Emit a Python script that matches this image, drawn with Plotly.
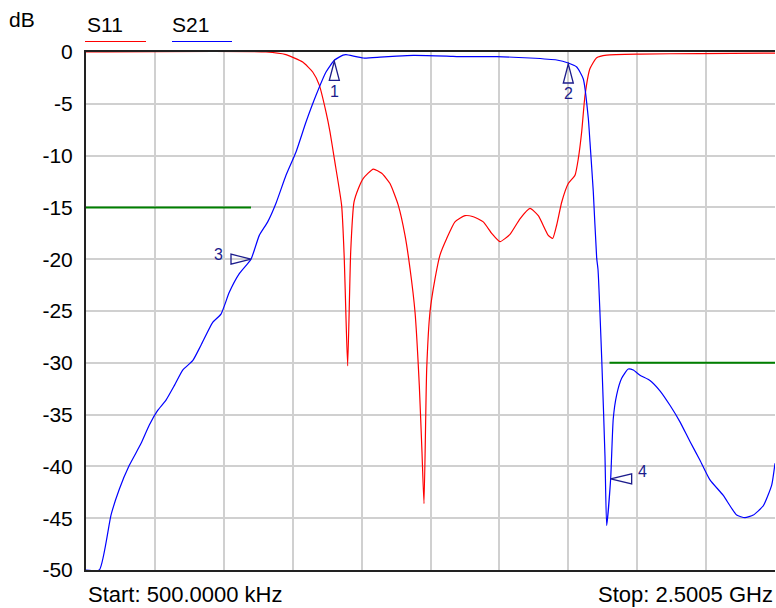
import numpy as np
import plotly.graph_objects as go

# ---- data (frequency in MHz, level in dB) ----
s21_freq = [0.5, 48.8, 91.2, 121.3, 157.6, 200.0, 230.2, 260.6, 290.8, 320.9, 351.4, 387.6,
            417.8, 460.2, 490.3, 520.4, 556.7, 599.2, 629.3, 659.8, 689.9, 726.2, 762.5,
            798.8, 835.1, 871.4, 901.5, 933.0, 943.9, 1006.7, 1067.3, 1127.8, 1188.1, 1309.3,
            1369.5, 1490.7, 1611.5, 1708.4, 1750.5, 1781.0, 1805.0, 1823.1, 1829.2, 1841.2,
            1853.5, 1858.3, 1871.6, 1883.6, 1889.7, 1904.2, 1913.6, 1926.0, 1944.1, 1968.1,
            1986.2, 2010.5, 2046.8, 2083.1, 2119.4, 2155.7, 2192.0, 2228.3, 2264.6, 2312.8,
            2361.4, 2391.5, 2421.7, 2458.0, 2488.5, 2500.5]
s21_db = [-50.0, -50.0, -44.7, -42.2, -39.9, -37.8, -36.0, -34.6, -33.6, -32.2, -30.7, -29.8,
          -28.3, -26.1, -25.3, -23.2, -21.4, -20.0, -17.7, -16.4, -14.6, -11.9, -9.65,
          -6.76, -4.18, -1.93, -0.8, -0.3, -0.26, -0.58, -0.5, -0.39, -0.32, -0.39,
          -0.45, -0.45, -0.58, -0.77, -1.06, -1.45, -2.6, -6.4, -8.7, -13.5,
          -19.9, -21.0, -29.5, -39.0, -45.7, -41.2, -35.4, -33.1, -31.5, -30.6,
          -30.7, -31.2, -31.7, -32.7, -34.1, -35.7, -37.6, -39.4, -41.3, -42.8,
          -44.7, -44.95, -44.7, -43.8, -41.8, -39.7]

s11_freq = [0.5, 653.6, 726.2, 786.8, 823.1, 847.0, 871.4, 885.8, 901.5, 928.0, 937.7, 943.9,
            950.0, 960.9, 972.9, 988.5, 1006.7, 1043.0, 1073.5, 1103.5, 1133.7, 1158.0, 1176.1,
            1194.3, 1209.9, 1219.6, 1226.9, 1236.7, 1248.6, 1266.8, 1284.9, 1309.3, 1339.3,
            1375.6, 1405.7, 1442.0, 1472.5, 1502.6, 1538.9, 1575.2, 1611.5, 1641.6, 1677.9,
            1693.8, 1708.4, 1726.5, 1750.5, 1774.8, 1786.8, 1799.1, 1811.1, 1829.2, 1853.5,
            1889.7, 2010.5, 2228.3, 2500.5]
s11_db = [0.0, 0.0, -0.26, -0.97, -1.93, -3.2, -5.8, -7.7, -10.3, -14.8, -20.0, -25.7,
          -30.3, -19.3, -14.5, -13.2, -12.2, -11.3, -11.7, -12.7, -14.8, -17.7, -20.9,
          -25.1, -32.2, -38.6, -43.6, -30.6, -25.1, -21.9, -19.6, -18.0, -16.4,
          -15.8, -15.9, -16.4, -17.5, -18.3, -17.6, -16.1, -15.1, -15.8, -17.7,
          -18.0, -16.7, -14.5, -12.7, -11.9, -10.3, -7.7, -4.2, -1.6, -0.55,
          -0.3, -0.2, -0.15, -0.1]

limit1_freq = [0.5, 599.2]
limit1_db = [-15, -15]
limit2_freq = [1900.0, 2500.5]
limit2_db = [-30, -30]

marker_freq = [901.5, 1750.5, 599.2, 1904.2]
marker_names = ["1", "2", "3", "4"]

y_ticks = [0, -5, -10, -15, -20, -25, -30, -35, -40, -45, -50]
y_tick_text = [str(v) for v in y_ticks]

FONT = "Liberation Sans, Arial, sans-serif"
NAVY = "#1c1c8c"

fig = go.Figure()
fig.add_trace(go.Scatter(x=limit1_freq, y=limit1_db, mode="lines",
                         line=dict(color="#008000", width=2), hoverinfo="skip"))
fig.add_trace(go.Scatter(x=limit2_freq, y=limit2_db, mode="lines",
                         line=dict(color="#008000", width=2), hoverinfo="skip"))
fig.add_trace(go.Scatter(x=s11_freq, y=s11_db, mode="lines", name="S11",
                         line=dict(color="#ff0000", width=1.2, shape="spline", smoothing=0.5)))
fig.add_trace(go.Scatter(x=s21_freq, y=s21_db, mode="lines", name="S21",
                         line=dict(color="#0000ff", width=1.2, shape="spline", smoothing=0.5)))

marker_db = list(np.interp(marker_freq, s21_freq, s21_db))

# marker glyphs: (path in pixel offsets, label dx, label dy)
glyphs = [
    ("M 0,-1 L -5,-20 L 5,-20 Z", 0, -31),
    ("M 0,-1 L -5,-20 L 5,-20 Z", 0, -31),
    ("M 0,0 L -20,5 L -20,-5 Z", -33, 5),
    ("M 0,0 L 21,5 L 21,-5 Z", 32, 7),
]
shapes = []
annotations = []
for f, d, name, (path, dx, dy) in zip(marker_freq, marker_db, marker_names, glyphs):
    shapes.append(dict(type="path", xref="x", yref="y", xsizemode="pixel", ysizemode="pixel",
                       xanchor=f, yanchor=d, path=path,
                       line=dict(color=NAVY, width=1.3), fillcolor="rgba(0,0,0,0)"))
    annotations.append(dict(x=f, y=d, xref="x", yref="y", text=name, showarrow=False,
                            xshift=dx, yshift=dy, font=dict(family=FONT, size=16, color=NAVY)))

# legend-like labels (positions given in page pixels, converted to paper units)
W, H = 689.0, 518.0
def px(x):
    return (x - 86) / W
def py(y):
    return (570 - y) / H

annotations += [
    dict(x=px(85), y=py(24), xref="paper", yref="paper", text="S11", showarrow=False,
         xanchor="left", yanchor="middle", font=dict(family=FONT, size=21, color="black")),
    dict(x=px(170), y=py(24), xref="paper", yref="paper", text="S21", showarrow=False,
         xanchor="left", yanchor="middle", font=dict(family=FONT, size=21, color="black")),
    dict(x=px(7), y=py(19), xref="paper", yref="paper", text="dB", showarrow=False,
         xanchor="left", yanchor="middle", font=dict(family=FONT, size=21, color="black")),
    dict(x=px(86), y=py(594), xref="paper", yref="paper", text="Start: 500.0000 kHz",
         showarrow=False, xanchor="left", yanchor="middle",
         font=dict(family=FONT, size=22, color="black")),
    dict(x=px(775), y=py(594), xref="paper", yref="paper", text="Stop: 2.5005 GHz",
         showarrow=False, xanchor="right", yanchor="middle",
         font=dict(family=FONT, size=22, color="black")),
]
shapes += [
    dict(type="line", xref="paper", yref="paper", x0=px(85), x1=px(146), y0=py(41.5), y1=py(41.5),
         line=dict(color="#ff0000", width=1)),
    dict(type="line", xref="paper", yref="paper", x0=px(172), x1=px(232), y0=py(41.5), y1=py(41.5),
         line=dict(color="#0000ff", width=1)),
]

fig.update_layout(
    width=776, height=608,
    margin=dict(l=86, r=1, t=52, b=38),
    paper_bgcolor="white", plot_bgcolor="white",
    showlegend=False,
    shapes=shapes, annotations=annotations,
    font=dict(family=FONT, size=20, color="black"),
)
fig.update_xaxes(range=[0.5, 2500.5], tick0=0.5, dtick=250, showticklabels=False,
                 showgrid=True, gridcolor="#d0d0d0", gridwidth=1.5,
                 showline=True, linecolor="#222222", linewidth=2, mirror=True,
                 zeroline=False, ticks="")
fig.update_yaxes(range=[-50, 0], tickvals=y_ticks, ticktext=y_tick_text,
                 showgrid=True, gridcolor="#d0d0d0", gridwidth=1.5,
                 showline=True, linecolor="#222222", linewidth=2,
                 zeroline=False, ticks="", ticklabelstandoff=7,
                 tickfont=dict(family=FONT, size=21, color="black"))

fig.write_html(
    "out.html",
    config={"displayModeBar": False},
    post_script="document.body.style.margin='0';"
                "document.documentElement.style.overflow='hidden';"
                "document.body.style.overflow='hidden';",
)
